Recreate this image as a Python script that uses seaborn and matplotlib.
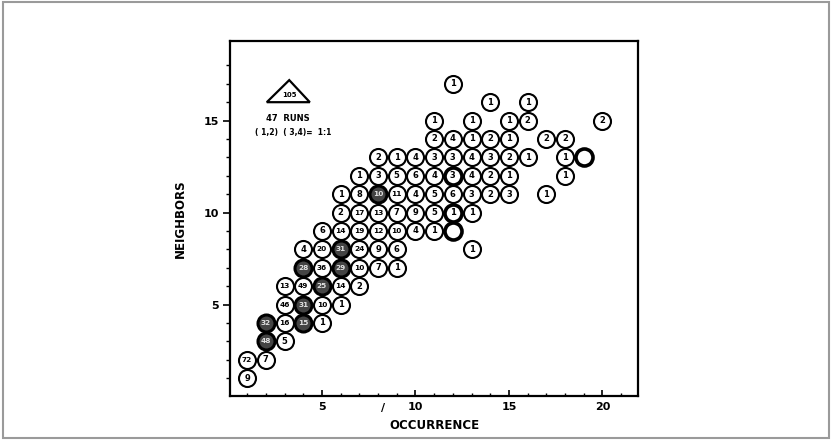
import pandas as pd
import matplotlib
matplotlib.use("Agg")
import matplotlib.pyplot as plt
import seaborn as sns
from matplotlib.patches import Polygon, Rectangle

sns.set_style("ticks")
plt.rcParams['font.family'] = ['DejaVu Sans']
plt.rcParams['text.color'] = 'black'
plt.rcParams['axes.labelcolor'] = 'black'
plt.rcParams['xtick.color'] = 'black'
plt.rcParams['ytick.color'] = 'black'

# one entry per circle: occurrence (x), neighbors (y), printed count, pen style
occurrence = [1,
              1, 2,
              2, 3,
              2, 3, 4, 5,
              3, 4, 5, 6,
              3, 4, 5, 6, 7,
              4, 5, 6, 7, 8, 9,
              4, 5, 6, 7, 8, 9, 13,
              5, 6, 7, 8, 9, 10, 11, 12,
              6, 7, 8, 9, 10, 11, 12, 13,
              6, 7, 8, 9, 10, 11, 12, 13, 14, 15, 17,
              7, 8, 9, 10, 11, 12, 13, 14, 15, 18,
              8, 9, 10, 11, 12, 13, 14, 15, 16, 18, 19,
              11, 12, 13, 14, 15, 17, 18,
              11, 13, 15, 16, 20,
              14, 16,
              12]
neighbors = [1,
             2, 2,
             3, 3,
             4, 4, 4, 4,
             5, 5, 5, 5,
             6, 6, 6, 6, 6,
             7, 7, 7, 7, 7, 7,
             8, 8, 8, 8, 8, 8, 8,
             9, 9, 9, 9, 9, 9, 9, 9,
             10, 10, 10, 10, 10, 10, 10, 10,
             11, 11, 11, 11, 11, 11, 11, 11, 11, 11, 11,
             12, 12, 12, 12, 12, 12, 12, 12, 12, 12,
             13, 13, 13, 13, 13, 13, 13, 13, 13, 13, 13,
             14, 14, 14, 14, 14, 14, 14,
             15, 15, 15, 15, 15,
             16, 16,
             17]
counts = ['9',
          '72', '7',
          '48', '5',
          '32', '16', '15', '1',
          '46', '31', '10', '1',
          '13', '49', '25', '14', '2',
          '28', '36', '29', '10', '7', '1',
          '4', '20', '31', '24', '9', '6', '1',
          '6', '14', '19', '12', '10', '4', '1', '',
          '2', '17', '13', '7', '9', '5', '1', '1',
          '1', '8', '10', '11', '4', '5', '6', '3', '2', '3', '1',
          '1', '3', '5', '6', '4', '3', '4', '2', '1', '1',
          '2', '1', '4', '3', '3', '4', '3', '2', '1', '1', '',
          '2', '4', '1', '2', '1', '2', '2',
          '1', '1', '1', '2', '2',
          '1', '1',
          '1']
pen = ['p',
       'p', 'p',
       'd', 'p',
       'd', 'p', 'd', 'p',
       'p', 'd', 'p', 'p',
       'p', 'p', 'd', 'p', 'p',
       'd', 'p', 'd', 'p', 'p', 'p',
       'p', 'p', 'd', 'p', 'p', 'p', 'p',
       'p', 'p', 'p', 'p', 'p', 'p', 'p', 'h',
       'p', 'p', 'p', 'p', 'p', 'p', 'h', 'p',
       'p', 'p', 'd', 'p', 'p', 'p', 'p', 'p', 'p', 'p', 'p',
       'p', 'p', 'p', 'p', 'p', 'h', 'p', 'p', 'p', 'p',
       'p', 'p', 'p', 'p', 'p', 'p', 'p', 'p', 'p', 'p', 'h',
       'p', 'p', 'p', 'p', 'p', 'p', 'p',
       'p', 'p', 'p', 'p', 'p',
       'p', 'p',
       'p']

df = pd.DataFrame({'occurrence': occurrence, 'neighbors': neighbors,
                   'count': counts, 'pen': pen})

fig = plt.figure(figsize=(8.32, 4.4), dpi=100)
ax = fig.add_axes([0.2764, 0.0989, 0.4904, 0.8068])

styles = {'p': dict(color='white', linewidth=1.5),
          'h': dict(color='white', linewidth=2.6),
          'd': dict(color='#444444', linewidth=2.2)}
for key, kw in styles.items():
    sub = df[df['pen'] == key]
    sns.scatterplot(data=sub, x='occurrence', y='neighbors', s=150,
                    edgecolor='black', marker='o', legend=False, ax=ax,
                    zorder=3, **kw)

for _, r in df.iterrows():
    ax.text(r['occurrence'], r['neighbors'], r['count'], ha='center', va='center',
            fontsize=6 if len(r['count']) < 2 else 5.3, fontweight='bold',
            color='#e0e0e0' if r['pen'] == 'd' else 'black', zorder=4)

ax.set_xlim(0.08, 21.9)
ax.set_ylim(0, 19.3)
ax.set_xticks([5, 10, 15, 20])
ax.set_xticks(range(1, 22), minor=True)
ax.set_yticks([5, 10, 15])
ax.set_yticks(range(1, 19), minor=True)
ax.tick_params(axis='x', which='both', direction='in', pad=4, labelsize=8)
ax.tick_params(axis='x', which='major', length=4, width=1.2)
ax.tick_params(axis='x', which='minor', length=2.5, width=1)
ax.tick_params(axis='y', which='both', direction='out', pad=3, labelsize=8)
ax.tick_params(axis='y', which='major', length=5, width=1.2)
ax.tick_params(axis='y', which='minor', length=3, width=1)
for lab in ax.get_xticklabels() + ax.get_yticklabels():
    lab.set_fontweight('bold')
for sp in ax.spines.values():
    sp.set_visible(True)
    sp.set_color('black')
    sp.set_linewidth(1.6)
ax.set_xlabel('OCCURRENCE', fontsize=8.5, fontweight='bold', labelpad=5)
ax.set_ylabel('NEIGHBORS', fontsize=8.5, fontweight='bold', labelpad=12)

# key in the upper left
ax.add_patch(Polygon([[2.05, 16.0], [4.35, 16.0], [3.25, 17.2]], closed=True,
                     facecolor='none', edgecolor='black', linewidth=1.6))
ax.text(3.25, 16.4, '105', ha='center', va='center', fontsize=5, fontweight='bold')
ax.text(3.15, 15.1, '47  RUNS', ha='center', va='center', fontsize=6, fontweight='bold')
ax.text(3.45, 14.35, '( 1,2)  ( 3,4)=  1:1', ha='center', va='center',
        fontsize=5.5, fontweight='bold')
ax.text(8.25, -0.65, '/', ha='center', va='center', fontsize=8,
        fontweight='bold', clip_on=False)

fig.patches.append(Rectangle((0.004, 0.005), 0.992, 0.99, transform=fig.transFigure,
                             fill=False, edgecolor='#9a9a9a', linewidth=1.5))

plt.savefig('out.png', dpi=100)
